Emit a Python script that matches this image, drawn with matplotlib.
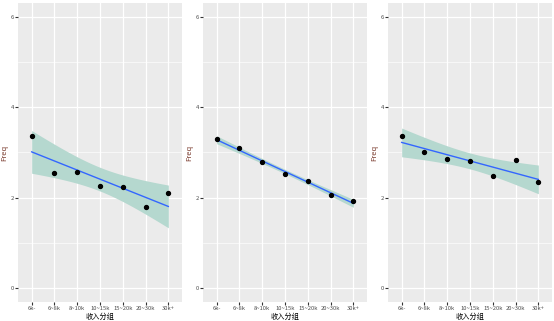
import numpy as np
import matplotlib.pyplot as plt

plt.rcParams['font.family'] = ['Noto Sans CJK SC', 'DejaVu Sans']

# income groups
income_groups = ['6k-', '6~8k', '8~10k', '10~15k', '15~20k', '20~30k', '30k+']

# Freq values for each panel
freq_left = [3.37, 2.54, 2.57, 2.27, 2.23, 1.79, 2.11]
freq_mid = [3.29, 3.10, 2.78, 2.52, 2.37, 2.07, 1.93]
freq_right = [3.37, 3.00, 2.86, 2.82, 2.48, 2.83, 2.34]

T_975_DF5 = 2.5706  # t quantile for 95% CI, n=7


def lm_band(x, y, xs):
    # ordinary least squares with 95% confidence band (like geom_smooth lm)
    n = len(x)
    b, a = np.polyfit(x, y, 1)
    resid = y - (a + b * x)
    s = np.sqrt((resid ** 2).sum() / (n - 2))
    sxx = ((x - x.mean()) ** 2).sum()
    fit = a + b * xs
    se = s * np.sqrt(1 / n + (xs - x.mean()) ** 2 / sxx)
    return fit, fit - T_975_DF5 * se, fit + T_975_DF5 * se


fig = plt.figure(figsize=(5.54, 3.21), dpi=100)
W, H = 554, 321
lefts = [18, 203, 388]
pw = 164
top, bottom = 3, 302

for left, vals in zip(lefts, [freq_left, freq_mid, freq_right]):
    ax = fig.add_axes([left / W, 1 - bottom / H, pw / W, (bottom - top) / H])
    ax.set_facecolor('#EBEBEB')
    x = np.arange(1, len(income_groups) + 1, dtype=float)
    y = np.array(vals)
    xs = np.linspace(1, len(x), 100)
    fit, lo, hi = lm_band(x, y, xs)
    ax.fill_between(xs, lo, hi, color='#B5D8CF', zorder=2, linewidth=0)
    ax.plot(xs, fit, color='#3366FF', lw=1.0, zorder=3)
    ax.scatter(x, y, s=8, color='black', zorder=4)

    ax.set_xlim(0.4, 7.6)
    ax.set_ylim(-0.3, 6.3)
    ax.set_xticks(x)
    ax.set_xticklabels(income_groups)
    ax.set_yticks([0, 2, 4, 6])
    ax.set_yticks([1, 3, 5], minor=True)
    ax.grid(True, which='major', color='white', lw=0.9)
    ax.grid(True, which='minor', axis='y', color='white', lw=0.45)
    ax.set_axisbelow(True)
    for sp in ax.spines.values():
        sp.set_visible(False)
    ax.tick_params(axis='both', which='major', length=2, color='#333333',
                   labelsize=4.2, labelcolor='#4D4D4D', pad=1.0)
    ax.tick_params(axis='y', which='minor', length=0)
    ax.set_xlabel('收入分组', fontsize=5.2)
    ax.xaxis.set_label_coords(0.5, -0.036)
    ax.set_ylabel('Freq', fontsize=5.5, color='#7A3B2E', labelpad=2)

plt.savefig('out.png', dpi=100)
